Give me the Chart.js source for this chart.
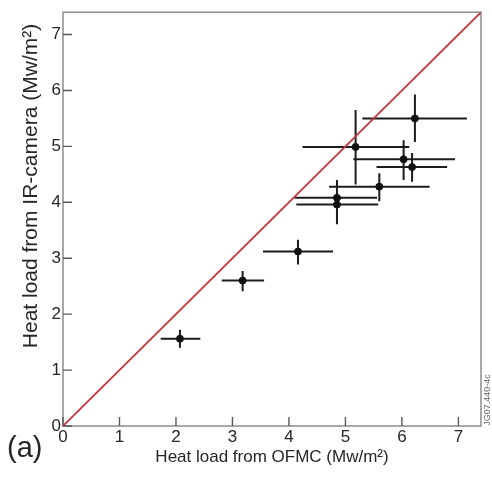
<!DOCTYPE html>
<html>
<head>
<meta charset="utf-8">
<script src="https://cdn.jsdelivr.net/npm/chart.js@4/dist/chart.umd.min.js"></script>
<style>
  html, body { margin: 0; padding: 0; background: #fff; }
  canvas { display: block; }
</style>
</head>
<body>
<canvas id="chart" width="492" height="477"></canvas>
<script>
// Heat load per shot: OFMC estimate (x) against IR-camera measurement (y)
const ofmc      = [2.07, 3.18, 4.16, 4.85, 4.85, 5.18, 5.60, 6.03, 6.18, 6.23];
const ofmcLow   = [1.73, 2.81, 3.54, 4.10, 4.13, 4.24, 4.71, 5.14, 5.55, 5.30];
const ofmcHigh  = [2.43, 3.56, 4.78, 5.56, 5.58, 6.13, 6.49, 6.94, 6.80, 7.15];
const irCamera  = [1.56, 2.60, 3.12, 4.08, 3.96, 4.99, 4.28, 4.77, 4.63, 5.50];
const irLow     = [1.40, 2.41, 2.89, 3.76, 3.61, 4.32, 4.02, 4.40, 4.37, 5.08];
const irHigh    = [1.72, 2.77, 3.33, 4.40, 4.26, 5.65, 4.52, 5.11, 4.88, 5.93];

// Equality line y = x
const unityLine = [0, 7.4];
const tickValues = [0, 1, 2, 3, 4, 5, 6, 7];

const FONT = '"Liberation Sans", Arial, Helvetica, sans-serif';
const TEXT = '#262626';

const points = ofmc.map((x, i) => ({ x, y: irCamera[i] }));

// Frame, inward tick marks and error bars, drawn through the chart scales
const framePlugin = {
  id: 'frameAndErrors',
  beforeDatasetsDraw(chart) {
    const { ctx, chartArea: a, scales: { x, y } } = chart;
    ctx.save();
    // box
    ctx.strokeStyle = '#8c8c8c';
    ctx.lineWidth = 1.5;
    ctx.strokeRect(a.left, a.top, a.right - a.left, a.bottom - a.top);
    // inward ticks
    ctx.strokeStyle = '#5a5a5a';
    ctx.lineWidth = 1.4;
    ctx.beginPath();
    tickValues.forEach(v => {
      const px = x.getPixelForValue(v);
      ctx.moveTo(px, a.bottom);
      ctx.lineTo(px, a.bottom - 9);
      const py = y.getPixelForValue(v);
      ctx.moveTo(a.left, py);
      ctx.lineTo(a.left + 9, py);
    });
    ctx.stroke();
    // error bars
    ctx.strokeStyle = '#1c1c1c';
    ctx.lineWidth = 2;
    ctx.beginPath();
    ofmc.forEach((xv, i) => {
      const cx = x.getPixelForValue(xv);
      const cy = y.getPixelForValue(irCamera[i]);
      ctx.moveTo(x.getPixelForValue(ofmcLow[i]), cy);
      ctx.lineTo(x.getPixelForValue(ofmcHigh[i]), cy);
      ctx.moveTo(cx, y.getPixelForValue(irLow[i]));
      ctx.lineTo(cx, y.getPixelForValue(irHigh[i]));
    });
    ctx.stroke();
    ctx.restore();
  },
  afterDraw(chart) {
    const { ctx } = chart;
    ctx.save();
    ctx.fillStyle = TEXT;
    // vertical axis title
    ctx.translate(31, 186);
    ctx.rotate(-Math.PI / 2);
    ctx.font = '21px ' + FONT;
    ctx.textAlign = 'center';
    ctx.textBaseline = 'middle';
    ctx.fillText('Heat load from IR-camera (Mw/m²)', 0, 0);
    ctx.restore();

    ctx.save();
    ctx.fillStyle = TEXT;
    ctx.font = '29px ' + FONT;
    ctx.textAlign = 'left';
    ctx.textBaseline = 'alphabetic';
    ctx.fillText('(a)', 7, 457);
    ctx.restore();

    ctx.save();
    ctx.fillStyle = '#666';
    ctx.translate(488, 400);
    ctx.rotate(-Math.PI / 2);
    ctx.font = '9px ' + FONT;
    ctx.textAlign = 'center';
    ctx.textBaseline = 'middle';
    ctx.fillText('JG07.440-4c', 0, 0);
    ctx.restore();
  }
};

new Chart(document.getElementById('chart'), {
  type: 'scatter',
  data: {
    datasets: [
      {
        label: 'y = x',
        data: unityLine.map(v => ({ x: v, y: v })),
        showLine: true,
        borderColor: '#c8343e',
        borderWidth: 1.8,
        pointRadius: 0,
        order: 2
      },
      {
        label: 'Heat load',
        data: points,
        backgroundColor: '#111',
        borderColor: '#111',
        pointRadius: 3.5,
        pointHoverRadius: 3.5,
        order: 1
      }
    ]
  },
  options: {
    responsive: false,
    animation: false,
    devicePixelRatio: 1,
    layout: { padding: { top: 9, right: 11, left: 0, bottom: 0 } },
    plugins: {
      legend: { display: false },
      tooltip: { enabled: false }
    },
    scales: {
      x: {
        type: 'linear',
        min: 0,
        max: 7.4,
        afterBuildTicks: s => { s.ticks = tickValues.map(v => ({ value: v })); },
        afterFit: s => { s.height = 51; },
        grid: { display: false, drawTicks: false, tickLength: 0 },
        border: { display: false },
        ticks: { font: { family: FONT, size: 17 }, color: TEXT, padding: 1, maxRotation: 0 },
        title: {
          display: true,
          text: 'Heat load from OFMC (Mw/m²)',
          font: { family: FONT, size: 17 },
          color: TEXT,
          padding: { top: 0, bottom: 9 }
        }
      },
      y: {
        type: 'linear',
        min: 0,
        max: 7.4,
        afterBuildTicks: s => { s.ticks = tickValues.map(v => ({ value: v })); },
        afterFit: s => { s.width = 63; },
        grid: { display: false, drawTicks: false, tickLength: 0 },
        border: { display: false },
        ticks: { font: { family: FONT, size: 17 }, color: TEXT, padding: 2 }
      }
    }
  },
  plugins: [framePlugin]
});
</script>
</body>
</html>
